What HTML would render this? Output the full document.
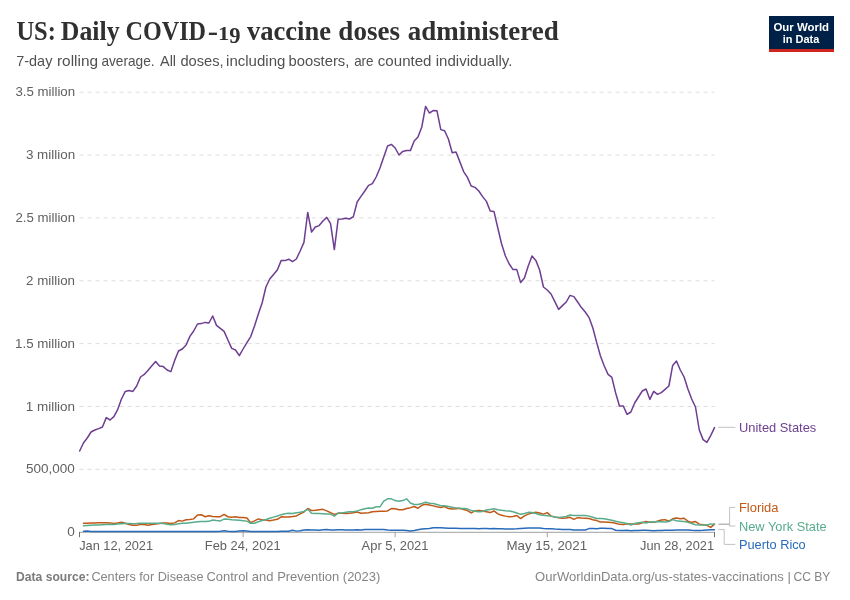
<!DOCTYPE html>
<html><head><meta charset="utf-8"><title>US: Daily COVID-19 vaccine doses administered</title>
<style>
html,body{margin:0;padding:0;background:#fff;}
body{width:850px;height:600px;overflow:hidden;position:relative;font-family:"Liberation Sans",sans-serif;}
svg{position:absolute;left:0;top:0;}
text{font-family:"Liberation Sans",sans-serif;}
.ax{font-size:13px;fill:#616161;}
.lb{font-size:13px;}
.title{font-family:"Liberation Serif",serif;font-weight:bold;font-size:26.5px;fill:#303030;}
.tt1{font-family:"Liberation Serif",serif;font-weight:bold;font-size:18.6px;fill:#303030;}
.tt9{font-family:"Liberation Serif",serif;font-weight:bold;font-size:24px;fill:#303030;}
.sub{font-size:14.8px;fill:#515151;}
.ft{font-size:13px;fill:#858585;}
.ftb{font-size:13px;fill:#7a7a7a;font-weight:bold;}
.logo{font-weight:bold;font-size:11.5px;fill:#fff;}
</style></head><body>
<svg width="850" height="600" viewBox="0 0 850 600">
<rect width="850" height="600" fill="#fff"/>
<text><tspan x="16.43" y="39.5" class="title" textLength="39.49" lengthAdjust="spacingAndGlyphs">US:</tspan> <tspan x="60.83" y="39.5" class="title" textLength="58.8" lengthAdjust="spacingAndGlyphs">Daily</tspan> <tspan x="125.57" y="39.5" class="title" textLength="80.5" lengthAdjust="spacingAndGlyphs">COVID</tspan><tspan x="207.81" y="39.5" class="title" textLength="10.29" lengthAdjust="spacingAndGlyphs">-</tspan><tspan x="218.0" y="40.0" class="tt1" textLength="11.32" lengthAdjust="spacingAndGlyphs">1</tspan><tspan x="229.13" y="43.4" class="tt9" textLength="11.29" lengthAdjust="spacingAndGlyphs">9</tspan> <tspan x="247.0" y="39.5" class="title" textLength="84.03" lengthAdjust="spacingAndGlyphs">vaccine</tspan> <tspan x="338.37" y="39.5" class="title" textLength="61.56" lengthAdjust="spacingAndGlyphs">doses</tspan> <tspan x="407.79" y="39.5" class="title" textLength="150.93" lengthAdjust="spacingAndGlyphs">administered</tspan></text>

<text><tspan x="16.27" y="66.1" class="sub" textLength="36.09" lengthAdjust="spacingAndGlyphs">7-day</tspan> <tspan x="57.01" y="66.1" class="sub" textLength="41.01" lengthAdjust="spacingAndGlyphs">rolling</tspan> <tspan x="101.4" y="66.1" class="sub" textLength="53.15" lengthAdjust="spacingAndGlyphs">average.</tspan> <tspan x="160.05" y="66.1" class="sub" textLength="16.03" lengthAdjust="spacingAndGlyphs">All</tspan> <tspan x="180.44" y="66.1" class="sub" textLength="43.28" lengthAdjust="spacingAndGlyphs">doses,</tspan> <tspan x="226.05" y="66.1" class="sub" textLength="59.3" lengthAdjust="spacingAndGlyphs">including</tspan> <tspan x="288.54" y="66.1" class="sub" textLength="60.83" lengthAdjust="spacingAndGlyphs">boosters,</tspan> <tspan x="354.15" y="66.1" class="sub" textLength="19.42" lengthAdjust="spacingAndGlyphs">are</tspan> <tspan x="377.82" y="66.1" class="sub" textLength="53.7" lengthAdjust="spacingAndGlyphs">counted</tspan> <tspan x="435.75" y="66.1" class="sub" textLength="76.66" lengthAdjust="spacingAndGlyphs">individually.</tspan></text>

<rect x="769" y="16" width="65" height="36" fill="#002147"/>
<rect x="769" y="49" width="65" height="3" fill="#ce261e"/>
<text x="773.4" y="30.8" class="logo" textLength="55.69" lengthAdjust="spacingAndGlyphs">Our World</text>

<text x="782.7" y="42.6" class="logo" textLength="36.59" lengthAdjust="spacingAndGlyphs">in Data</text>

<text x="67.33" y="536.35" class="ax" textLength="7.57" lengthAdjust="spacingAndGlyphs">0</text>
<line x1="79.5" x2="714.5" y1="469.34" y2="469.34" stroke="#dcdcdc" stroke-dasharray="4,4"/>
<text x="26.01" y="473.49" class="ax" textLength="48.89" lengthAdjust="spacingAndGlyphs">500,000</text>
<line x1="79.5" x2="714.5" y1="406.48" y2="406.48" stroke="#dcdcdc" stroke-dasharray="4,4"/>
<text x="25.71" y="410.63" class="ax" textLength="49.39" lengthAdjust="spacingAndGlyphs">1 million</text>
<line x1="79.5" x2="714.5" y1="343.62" y2="343.62" stroke="#dcdcdc" stroke-dasharray="4,4"/>
<text x="15.02" y="347.77" class="ax" textLength="59.99" lengthAdjust="spacingAndGlyphs">1.5 million</text>
<line x1="79.5" x2="714.5" y1="280.76" y2="280.76" stroke="#dcdcdc" stroke-dasharray="4,4"/>
<text x="26.12" y="284.91" class="ax" textLength="48.92" lengthAdjust="spacingAndGlyphs">2 million</text>
<line x1="79.5" x2="714.5" y1="217.90" y2="217.90" stroke="#dcdcdc" stroke-dasharray="4,4"/>
<text x="15.45" y="222.05" class="ax" textLength="59.67" lengthAdjust="spacingAndGlyphs">2.5 million</text>
<line x1="79.5" x2="714.5" y1="155.04" y2="155.04" stroke="#dcdcdc" stroke-dasharray="4,4"/>
<text x="25.92" y="159.19" class="ax" textLength="49.29" lengthAdjust="spacingAndGlyphs">3 million</text>
<line x1="79.5" x2="714.5" y1="92.18" y2="92.18" stroke="#dcdcdc" stroke-dasharray="4,4"/>
<text x="15.42" y="96.33" class="ax" textLength="59.68" lengthAdjust="spacingAndGlyphs">3.5 million</text>

<line x1="79" x2="715" y1="532.3" y2="532.3" stroke="#777" stroke-width="0.7"/>
<g stroke="#6e6e6e"><line x1="79.5" x2="79.5" y1="532" y2="537.2"/>
<line x1="714.5" x2="714.5" y1="532" y2="537.2"/>
</g><g stroke="#777" stroke-width="0.7"><line x1="243.1" x2="243.1" y1="532.5" y2="537.2"/>
<line x1="395.1" x2="395.1" y1="532.5" y2="537.2"/>
<line x1="547.3" x2="547.3" y1="532.5" y2="537.2"/></g>
<text x="79.16" y="550" class="ax" textLength="73.95" lengthAdjust="spacingAndGlyphs">Jan 12, 2021</text>

<text x="204.82" y="550" class="ax" textLength="75.77" lengthAdjust="spacingAndGlyphs">Feb 24, 2021</text>

<text x="361.55" y="550" class="ax" textLength="66.96" lengthAdjust="spacingAndGlyphs">Apr 5, 2021</text>

<text x="506.43" y="550" class="ax" textLength="80.64" lengthAdjust="spacingAndGlyphs">May 15, 2021</text>

<text x="640.1" y="550" class="ax" textLength="73.93" lengthAdjust="spacingAndGlyphs">Jun 28, 2021</text>

<g fill="none" stroke-width="1.5" stroke-linejoin="round" stroke-linecap="round">
<path d="M83.45,523.24 L87.25,523.24 L91.05,523.00 L94.86,522.88 L98.66,522.76 L102.46,522.76 L106.26,522.76 L110.06,522.88 L113.86,523.59 L117.67,522.88 L121.47,522.29 L125.27,523.24 L129.07,524.41 L132.87,525.24 L136.67,525.35 L140.47,524.18 L144.28,524.41 L148.08,525.24 L151.88,524.41 L155.68,523.94 L159.48,523.59 L163.28,522.88 L167.08,523.00 L170.89,523.59 L174.69,522.88 L178.49,520.53 L182.29,521.12 L186.09,519.71 L189.89,519.47 L193.69,518.88 L197.50,515.00 L201.30,514.65 L205.10,516.76 L208.90,515.82 L212.70,516.53 L216.50,516.65 L220.31,516.65 L224.11,514.41 L227.91,516.76 L231.71,517.35 L235.51,516.76 L239.31,517.59 L243.11,517.59 L246.92,517.94 L250.72,522.65 L254.52,520.88 L258.32,518.88 L262.12,519.94 L265.92,519.94 L269.73,520.65 L273.53,520.06 L277.33,519.35 L281.13,516.76 L284.93,517.00 L288.73,517.00 L292.53,516.53 L296.34,515.94 L300.14,513.82 L303.94,512.06 L307.74,508.53 L311.54,510.53 L315.34,510.29 L319.14,509.71 L322.95,509.35 L326.75,510.88 L330.55,512.65 L334.35,514.41 L338.15,513.24 L341.95,513.24 L345.75,513.59 L349.56,513.24 L353.36,512.65 L357.16,512.06 L360.96,513.18 L364.76,512.94 L368.56,512.71 L372.37,511.76 L376.17,511.41 L379.97,511.18 L383.77,511.18 L387.57,510.94 L391.37,508.59 L395.17,508.82 L398.98,509.76 L402.78,509.76 L406.58,508.59 L410.38,507.65 L414.18,506.47 L417.98,508.24 L421.78,505.29 L425.59,504.35 L429.39,505.06 L433.19,505.88 L436.99,506.82 L440.79,507.41 L444.59,506.47 L448.40,508.59 L452.20,509.06 L456.00,508.82 L459.80,508.24 L463.60,509.41 L467.40,510.59 L471.20,512.94 L475.01,510.94 L478.81,510.59 L482.61,510.94 L486.41,511.76 L490.21,512.59 L494.01,510.94 L497.81,513.88 L501.62,515.29 L505.42,516.12 L509.22,516.82 L513.02,516.47 L516.82,515.53 L520.62,518.59 L524.43,515.88 L528.23,514.12 L532.03,512.94 L535.83,512.35 L539.63,512.94 L543.43,514.12 L547.23,512.59 L551.04,516.12 L554.84,517.06 L558.64,517.65 L562.44,518.24 L566.24,518.00 L570.04,517.29 L573.85,519.41 L577.65,517.65 L581.45,518.00 L585.25,518.24 L589.05,518.59 L592.85,519.76 L596.65,520.59 L600.46,522.00 L604.26,522.12 L608.06,522.35 L611.86,522.59 L615.66,523.18 L619.46,524.35 L623.26,524.47 L627.07,523.76 L630.87,524.12 L634.67,524.12 L638.47,524.12 L642.27,522.71 L646.07,521.53 L649.88,522.35 L653.68,522.35 L657.48,521.18 L661.28,520.00 L665.08,519.65 L668.88,521.18 L672.68,518.82 L676.49,518.00 L680.29,518.82 L684.09,518.24 L687.89,521.18 L691.69,522.35 L695.49,521.53 L699.29,524.12 L703.10,524.71 L706.90,525.29 L710.70,527.41 L714.50,524.12" stroke="#C05917"/>
<path d="M83.45,525.82 L87.25,525.59 L91.05,525.35 L94.86,525.12 L98.66,524.88 L102.46,524.65 L106.26,524.41 L110.06,524.41 L113.86,524.41 L117.67,524.06 L121.47,523.82 L125.27,523.59 L129.07,523.59 L132.87,523.82 L136.67,523.59 L140.47,523.24 L144.28,523.24 L148.08,523.24 L151.88,523.24 L155.68,523.24 L159.48,523.24 L163.28,523.59 L167.08,524.18 L170.89,524.65 L174.69,524.41 L178.49,523.82 L182.29,523.24 L186.09,523.24 L189.89,522.65 L193.69,522.18 L197.50,521.82 L201.30,521.59 L205.10,521.59 L208.90,521.35 L212.70,519.94 L216.50,520.53 L220.31,520.88 L224.11,519.12 L227.91,519.35 L231.71,519.71 L235.51,519.94 L239.31,520.29 L243.11,520.65 L246.92,521.12 L250.72,523.24 L254.52,523.24 L258.32,521.82 L262.12,520.53 L265.92,519.47 L269.73,518.29 L273.53,517.12 L277.33,515.94 L281.13,514.65 L284.93,513.82 L288.73,513.24 L292.53,513.59 L296.34,512.65 L300.14,512.29 L303.94,511.47 L307.74,509.35 L311.54,513.24 L315.34,513.59 L319.14,513.59 L322.95,513.82 L326.75,514.06 L330.55,514.06 L334.35,516.18 L338.15,513.00 L341.95,512.88 L345.75,512.29 L349.56,511.82 L353.36,511.82 L357.16,510.88 L360.96,509.65 L364.76,508.82 L368.56,508.00 L372.37,508.24 L376.17,506.82 L379.97,506.82 L383.77,501.18 L387.57,498.82 L391.37,498.82 L395.17,500.59 L398.98,501.18 L402.78,500.59 L406.58,498.82 L410.38,502.94 L414.18,504.47 L417.98,504.47 L421.78,503.53 L425.59,502.12 L429.39,503.18 L433.19,503.53 L436.99,504.47 L440.79,505.65 L444.59,505.65 L448.40,506.47 L452.20,507.29 L456.00,507.88 L459.80,508.59 L463.60,508.59 L467.40,508.82 L471.20,510.59 L475.01,511.18 L478.81,511.76 L482.61,511.53 L486.41,510.00 L490.21,509.41 L494.01,508.82 L497.81,509.76 L501.62,510.35 L505.42,510.71 L509.22,510.94 L513.02,511.76 L516.82,512.94 L520.62,514.35 L524.43,513.53 L528.23,512.35 L532.03,512.59 L535.83,513.53 L539.63,514.71 L543.43,515.29 L547.23,515.65 L551.04,516.12 L554.84,517.06 L558.64,517.41 L562.44,517.06 L566.24,516.47 L570.04,515.06 L573.85,515.53 L577.65,515.53 L581.45,515.53 L585.25,515.53 L589.05,516.12 L592.85,517.29 L596.65,518.47 L600.46,518.47 L604.26,518.82 L608.06,519.41 L611.86,520.24 L615.66,521.18 L619.46,522.00 L623.26,522.71 L627.07,523.53 L630.87,524.94 L634.67,523.53 L638.47,522.71 L642.27,522.35 L646.07,522.94 L649.88,522.00 L653.68,522.00 L657.48,521.53 L661.28,521.76 L665.08,522.00 L668.88,521.53 L672.68,519.65 L676.49,520.82 L680.29,521.18 L684.09,521.53 L687.89,522.35 L691.69,523.53 L695.49,524.71 L699.29,524.94 L703.10,524.94 L706.90,525.06 L710.70,523.88 L714.50,524.35" stroke="#58AC8C"/>
<path d="M83.45,531.28 L87.25,531.05 L91.05,531.52 L94.86,531.52 L98.66,531.52 L102.46,531.52 L106.26,531.52 L110.06,531.52 L113.86,531.52 L117.67,531.52 L121.47,531.52 L125.27,531.52 L129.07,531.52 L132.87,531.52 L136.67,531.52 L140.47,531.52 L144.28,531.52 L148.08,531.52 L151.88,531.52 L155.68,531.52 L159.48,531.52 L163.28,531.52 L167.08,531.52 L170.89,531.40 L174.69,531.40 L178.49,531.40 L182.29,531.40 L186.09,531.40 L189.89,531.40 L193.69,531.40 L197.50,531.40 L201.30,531.40 L205.10,531.40 L208.90,531.40 L212.70,531.40 L216.50,531.40 L220.31,531.16 L224.11,530.81 L227.91,531.16 L231.71,531.40 L235.51,531.40 L239.31,531.05 L243.11,530.69 L246.92,531.05 L250.72,531.40 L254.52,531.40 L258.32,531.40 L262.12,531.40 L265.92,531.52 L269.73,531.52 L273.53,531.52 L277.33,531.52 L281.13,531.28 L284.93,531.28 L288.73,531.28 L292.53,530.29 L296.34,531.12 L300.14,530.65 L303.94,529.94 L307.74,529.71 L311.54,529.94 L315.34,529.94 L319.14,530.29 L322.95,529.71 L326.75,529.47 L330.55,529.94 L334.35,529.94 L338.15,529.71 L341.95,529.71 L345.75,529.94 L349.56,529.94 L353.36,529.94 L357.16,529.71 L360.96,530.00 L364.76,529.41 L368.56,529.41 L372.37,529.41 L376.17,529.41 L379.97,529.41 L383.77,529.41 L387.57,530.00 L391.37,530.35 L395.17,530.35 L398.98,530.35 L402.78,530.35 L406.58,530.59 L410.38,530.94 L414.18,530.59 L417.98,529.76 L421.78,529.06 L425.59,528.82 L429.39,528.59 L433.19,527.65 L436.99,527.65 L440.79,527.65 L444.59,527.88 L448.40,528.24 L452.20,528.24 L456.00,528.24 L459.80,528.59 L463.60,528.59 L467.40,528.59 L471.20,528.59 L475.01,528.59 L478.81,528.82 L482.61,528.59 L486.41,528.59 L490.21,528.82 L494.01,528.59 L497.81,528.82 L501.62,528.82 L505.42,529.06 L509.22,529.06 L513.02,529.06 L516.82,528.82 L520.62,528.47 L524.43,528.24 L528.23,528.00 L532.03,527.88 L535.83,527.88 L539.63,528.00 L543.43,528.47 L547.23,528.82 L551.04,528.82 L554.84,529.06 L558.64,529.18 L562.44,529.41 L566.24,529.41 L570.04,529.41 L573.85,530.00 L577.65,530.00 L581.45,530.00 L585.25,530.00 L589.05,528.59 L592.85,528.59 L596.65,528.82 L600.46,528.24 L604.26,528.24 L608.06,528.59 L611.86,528.59 L615.66,530.24 L619.46,530.59 L623.26,530.59 L627.07,530.35 L630.87,530.82 L634.67,530.59 L638.47,530.59 L642.27,530.35 L646.07,530.35 L649.88,530.59 L653.68,530.82 L657.48,530.59 L661.28,530.59 L665.08,530.35 L668.88,530.35 L672.68,530.35 L676.49,530.00 L680.29,530.00 L684.09,530.00 L687.89,530.00 L691.69,530.35 L695.49,530.59 L699.29,530.59 L703.10,530.35 L706.90,530.00 L710.70,529.76 L714.50,529.76" stroke="#286BBB"/>
<path d="M79.65,451.00 L83.45,443.00 L87.25,438.00 L91.05,432.00 L94.86,430.00 L98.66,428.60 L102.46,427.00 L106.26,417.60 L110.06,420.00 L113.86,416.60 L117.67,409.60 L121.47,399.00 L125.27,391.40 L129.07,390.60 L132.87,391.40 L136.67,386.00 L140.47,377.00 L144.28,374.40 L148.08,370.20 L151.88,365.80 L155.68,361.60 L159.48,366.00 L163.28,366.60 L167.08,370.00 L170.89,371.60 L174.69,360.40 L178.49,351.00 L182.29,349.00 L186.09,345.00 L189.89,336.40 L193.69,331.00 L197.50,324.00 L201.30,323.60 L205.10,322.40 L208.90,323.00 L212.70,316.00 L216.50,325.40 L220.31,328.40 L224.11,331.40 L227.91,340.00 L231.71,348.40 L235.51,350.00 L239.31,355.60 L243.11,349.00 L246.92,342.60 L250.72,336.60 L254.52,326.00 L258.32,314.00 L262.12,303.00 L265.92,287.00 L269.73,279.00 L273.53,274.60 L277.33,270.00 L281.13,260.60 L284.93,260.60 L288.73,259.20 L292.53,261.60 L296.34,259.00 L300.14,251.00 L303.94,242.40 L307.74,212.40 L311.54,232.00 L315.34,227.00 L319.14,225.60 L322.95,221.00 L326.75,217.40 L330.55,223.60 L334.35,249.60 L338.15,219.20 L341.95,219.00 L345.75,218.20 L349.56,219.00 L353.36,216.60 L357.16,202.00 L360.96,196.40 L364.76,191.00 L368.56,185.40 L372.37,183.60 L376.17,177.00 L379.97,168.00 L383.77,157.00 L387.57,146.00 L391.37,144.40 L395.17,148.00 L398.98,155.00 L402.78,151.40 L406.58,150.40 L410.38,150.60 L414.18,141.00 L417.98,137.00 L421.78,127.00 L425.59,106.40 L429.39,113.00 L433.19,110.60 L436.99,110.80 L440.79,129.60 L444.59,130.80 L448.40,139.00 L452.20,152.80 L456.00,152.00 L459.80,161.60 L463.60,171.60 L467.40,177.40 L471.20,186.00 L475.01,187.40 L478.81,191.00 L482.61,196.60 L486.41,201.40 L490.21,211.00 L494.01,211.60 L497.81,228.00 L501.62,244.00 L505.42,256.00 L509.22,264.00 L513.02,269.60 L516.82,269.60 L520.62,282.60 L524.43,278.00 L528.23,266.00 L532.03,256.00 L535.83,260.40 L539.63,270.00 L543.43,287.00 L547.23,290.00 L551.04,294.00 L554.84,301.60 L558.64,309.40 L562.44,305.60 L566.24,302.00 L570.04,295.40 L573.85,296.60 L577.65,302.00 L581.45,307.60 L585.25,312.00 L589.05,317.60 L592.85,328.00 L596.65,342.40 L600.46,356.00 L604.26,366.00 L608.06,374.40 L611.86,377.40 L615.66,393.00 L619.46,406.00 L623.26,406.00 L627.07,414.40 L630.87,412.00 L634.67,403.00 L638.47,397.00 L642.27,391.00 L646.07,389.00 L649.88,399.40 L653.68,391.40 L657.48,394.40 L661.28,392.60 L665.08,389.40 L668.88,386.00 L672.68,365.40 L676.49,361.00 L680.29,370.00 L684.09,377.00 L687.89,389.00 L691.69,399.00 L695.49,407.00 L699.29,430.00 L703.10,439.60 L706.90,442.40 L710.70,435.60 L714.50,427.60" stroke="#6D3E91"/>
</g>
<g fill="none" stroke="#999" stroke-width="0.6">
<line x1="718.3" x2="735.4" y1="427.3" y2="427.3"/>
<path d="M718.5,524 H729.6 V507.4 H735.3"/>
<path d="M718.5,524.4 H729.6 V526 H735.3"/>
<path d="M718.5,529.6 H724.2 V544.4 H735.3"/>
</g>
<text x="739.05" y="431.9" class="lb" textLength="77.2" lengthAdjust="spacingAndGlyphs" fill="#6D3E91">United States</text>

<text x="738.88" y="512.1" class="lb" textLength="39.65" lengthAdjust="spacingAndGlyphs" fill="#C05917">Florida</text>

<text x="738.9" y="530.5" class="lb" textLength="87.81" lengthAdjust="spacingAndGlyphs" fill="#58AC8C">New York State</text>

<text x="738.9" y="548.9" class="lb" textLength="66.84" lengthAdjust="spacingAndGlyphs" fill="#286BBB">Puerto Rico</text>


<text><tspan x="16.09" y="580.7" class="ftb" textLength="73.35" lengthAdjust="spacingAndGlyphs">Data source:</tspan> <tspan x="91.42" y="580.7" class="ft" textLength="112.1" lengthAdjust="spacingAndGlyphs">Centers for Disease</tspan> <tspan x="206.38" y="580.7" class="ft" textLength="174.0" lengthAdjust="spacingAndGlyphs">Control and Prevention (2023)</tspan></text>

<text class="ft"><tspan x="535.11" y="580.7" textLength="248.68" lengthAdjust="spacingAndGlyphs">OurWorldinData.org/us-states-vaccinations</tspan> <tspan x="787.61" y="580.7">|</tspan> <tspan x="793.49" y="580.7" textLength="36.95" lengthAdjust="spacingAndGlyphs">CC BY</tspan></text>
</svg>
</body></html>
